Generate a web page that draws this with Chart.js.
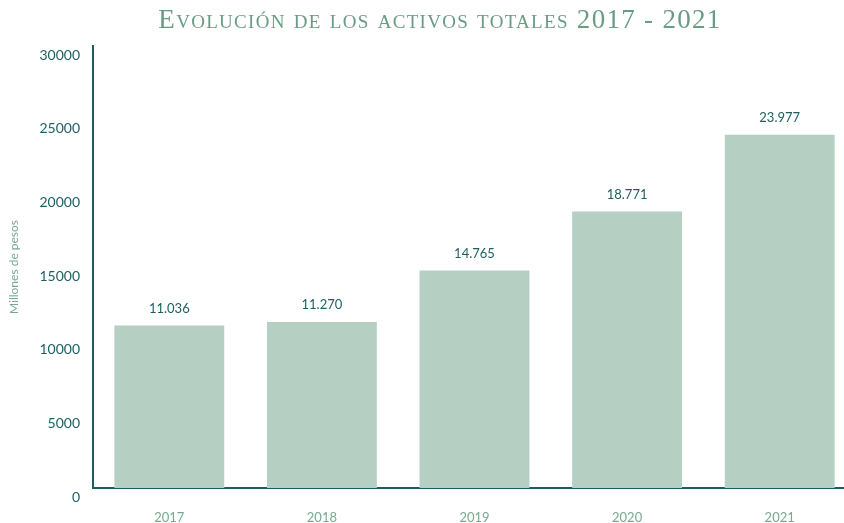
<!DOCTYPE html>
<html>
<head>
<meta charset="utf-8">
<script src="https://cdn.jsdelivr.net/npm/chart.js@4.4.0/dist/chart.umd.min.js"></script>
<style>
    html, body { margin: 0; padding: 0; background: #ffffff; overflow: hidden; }
    #wrap { position: relative; width: 844px; height: 523px; overflow: hidden; }
    #title {
        position: absolute; left: 0; top: 4px; width: 880px; text-align: center;
        font-family: "Liberation Serif", serif; font-variant: small-caps;
        font-size: 27px; letter-spacing: 1.3px; color: #6a9c84; margin: 0; font-weight: normal;
    }
    #box { position: absolute; left: 0; top: 0; width: 856px; height: 523px; }
</style>
</head>
<body>
<div id="wrap">
    <div id="box"><canvas id="activosChart"></canvas></div>
    <h1 id="title">Evolución de los activos totales 2017 - 2021</h1>
</div>
<script>
const years = ["2017", "2018", "2019", "2020", "2021"]
const activos = [11036, 11270, 14765, 18771, 23977]
const yTicks = [0, 5000, 10000, 15000, 20000, 25000, 30000]

const darkTeal = "#1d5f61"
const lightGreen = "#78a98f"

// thousands with a dot, as written in Spanish
function fmt(v) {
    return String(v).replace(/\B(?=(\d{3})+(?!\d))/g, ".")
}

// value above each bar
const barValues = {
    id: "barValues",
    afterDatasetsDraw(chart) {
        const ctx = chart.ctx
        const meta = chart.getDatasetMeta(0)
        ctx.save()
        ctx.font = "13px Lato"
        ctx.fillStyle = darkTeal
        ctx.textAlign = "center"
        ctx.textBaseline = "middle"
        meta.data.forEach((bar, i) => {
            ctx.fillText(fmt(activos[i]), bar.x, bar.y - 17)
        })
        ctx.restore()
    },
}

const ctx = document.getElementById("activosChart")
new Chart(ctx, {
    type: "bar",
    data: {
        labels: years,
        datasets: [
            {
                label: "Activos totales",
                data: activos,
                backgroundColor: "#b5cfc3",
                barPercentage: 0.72,
                categoryPercentage: 1,
            },
        ],
    },
    options: {
        responsive: true,
        maintainAspectRatio: false,
        animation: false,
        layout: { padding: { top: 46, left: 0, right: 0, bottom: 0 } },
        plugins: {
            legend: { display: false },
            tooltip: { enabled: false },
        },
        scales: {
            x: {
                grid: { display: false, drawTicks: false },
                border: { color: darkTeal, width: 2 },
                ticks: { color: lightGreen, font: { family: "Lato", size: 13 }, padding: 22 },
                afterFit: (s) => { s.height = 35 },
            },
            y: {
                min: 0,
                max: 30000,
                afterBuildTicks: (s) => { s.ticks = yTicks.map((v) => ({ value: v })) },
                grid: { display: false, drawTicks: false },
                border: { color: darkTeal, width: 2 },
                ticks: {
                    color: darkTeal,
                    font: { family: "Lato", size: 14 },
                    padding: 13,
                    labelOffset: 9,
                    callback: (v) => String(v),
                },
                title: {
                    display: true,
                    text: "Millones de pesos",
                    color: lightGreen,
                    font: { family: "Lato", size: 12 },
                    padding: { top: 7, bottom: 0 },
                },
                afterFit: (s) => { s.width = 93 },
            },
        },
    },
    plugins: [barValues],
})
</script>
</body>
</html>
